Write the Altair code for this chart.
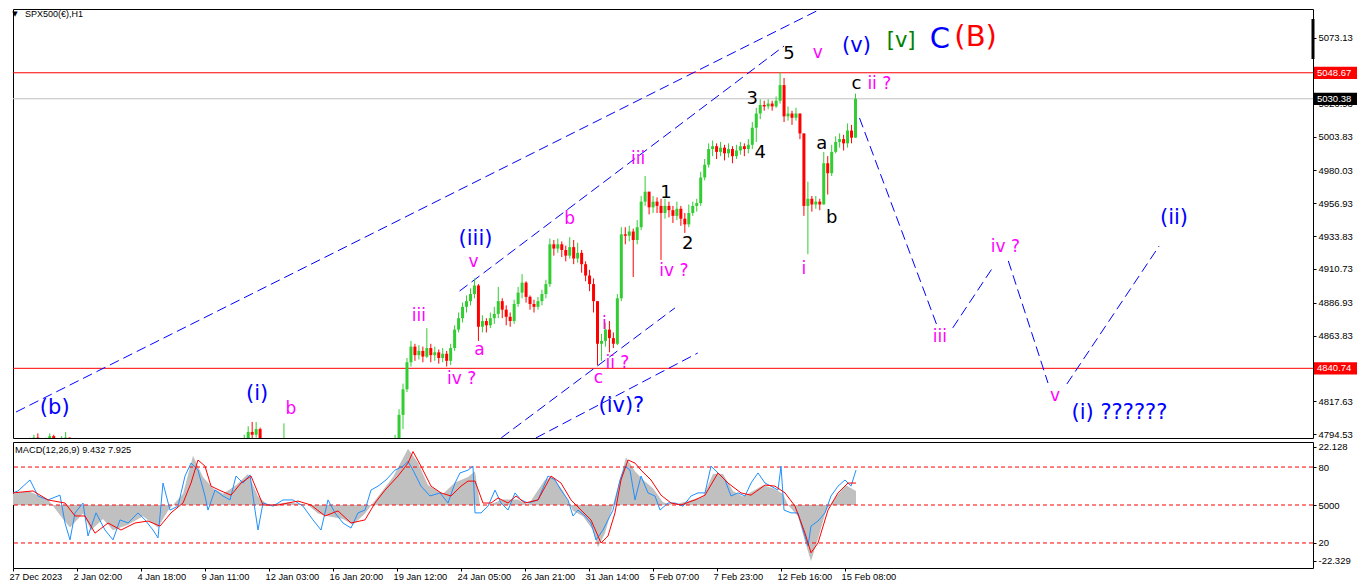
import json
import altair as alt
import pandas as pd

# ---------------- layout ----------------
W = 1300
H_MAIN = 429
H_MACD = 126

# ---------------- axes / tick labels ----------------
X_DOMAIN = [0, 1300]                      # H1 bar index
X_TICK_BARS = [0, 64, 128, 192, 256, 320, 384, 448, 512, 576, 640, 704, 768, 832]
X_TICK_LABELS = ["27 Dec 2023", "2 Jan 02:00", "4 Jan 18:00", "9 Jan 11:00", "12 Jan 03:00",
                 "16 Jan 20:00", "19 Jan 12:00", "24 Jan 05:00", "26 Jan 21:00", "31 Jan 14:00",
                 "5 Feb 07:00", "7 Feb 23:00", "12 Feb 16:00", "15 Feb 08:00"]

PRICE_DOMAIN = [4791.72, 5093.53]
PRICE_TICKS = [5073.13, 5026.93, 5003.83, 4980.03, 4956.93, 4933.83, 4910.73,
               4886.93, 4863.83, 4817.63, 4794.53]

MACD_DOMAIN = [-22.4, 22.4]
MACD_TICK_VALUES = [20.7, 13.5, 0, -13.5, -19.9]
MACD_TICK_TEXT = ["22.128", "80", "5000", "20", "-22.329"]
MACD_LEVELS = [13.5, 0, -13.5]

TITLE = "SPX500(€),H1"
MACD_TITLE = "MACD(12,26,9) 9.432 7.925"

# ---------------- price candles (one drawn candle every 4 H1 bars) ----------------
CANDLE_STEP = 4
CLOSE = [4786, 4788, 4787, 4790, 4792, 4790, 4787, 4789, 4793, 4790,
         4786, 4790, 4792, 4778, 4764, 4772, 4778, 4782, 4770, 4760,
         4768, 4772, 4765, 4758, 4754, 4752, 4760, 4764, 4760, 4758,
         4763, 4767, 4762, 4760, 4755, 4750, 4746, 4762, 4770, 4766,
         4768, 4771, 4777, 4782, 4787, 4785, 4783, 4776, 4772, 4777,
         4775, 4774, 4776, 4778, 4776, 4782, 4786, 4790, 4796, 4794,
         4798, 4784, 4770, 4776, 4779, 4777, 4781, 4786, 4783, 4781,
         4784, 4782, 4779, 4775, 4770, 4766, 4762, 4758, 4766, 4763,
         4760, 4756, 4752, 4749, 4748, 4753, 4757, 4760, 4764, 4769,
         4773, 4776, 4779, 4782, 4785, 4790,
         4808, 4826, 4845, 4856, 4850, 4853, 4849, 4855, 4850, 4852,
         4848, 4851, 4846, 4855, 4868, 4876, 4884, 4888, 4893, 4899,
         4870, 4874, 4871, 4876, 4879, 4888, 4882, 4877, 4874, 4886,
         4894, 4901, 4891, 4886, 4884, 4888, 4893, 4900, 4928, 4925,
         4928, 4924, 4920, 4926, 4918, 4922, 4914, 4906, 4900, 4888,
         4858, 4860, 4868, 4862, 4858, 4890, 4935, 4934, 4937, 4931,
         4940, 4958, 4965, 4954, 4958, 4955, 4950, 4955, 4952, 4948,
         4953, 4946, 4942, 4950, 4955, 4957, 4975, 4984, 4995, 4997,
         4993, 4996, 4992, 4995, 4990, 4994, 4997, 4995, 4998, 5010,
         5020, 5026, 5025, 5027, 5025, 5029, 5040, 5018, 5020, 5017,
         5020, 5006, 4955, 4960, 4956, 4958, 4956, 4985, 4978, 4993,
         5000, 5002, 4999, 5008, 5003, 5030.38]
HIGH = [4789, 4790, 4790, 4792, 4794, 4795, 4791, 4792, 4795, 4794,
        4790, 4793, 4796, 4792, 4780, 4775, 4781, 4785, 4783, 4772,
        4771, 4776, 4774, 4767, 4760, 4757, 4763, 4768, 4766, 4763,
        4766, 4770, 4769, 4765, 4762, 4757, 4752, 4766, 4774, 4772,
        4771, 4774, 4780, 4785, 4790, 4789, 4787, 4784, 4778, 4780,
        4779, 4778, 4779, 4781, 4780, 4785, 4789, 4794, 4800, 4803,
        4803, 4799, 4786, 4779, 4782, 4781, 4784, 4802, 4788, 4785,
        4787, 4786, 4784, 4781, 4777, 4772, 4768, 4764, 4769, 4768,
        4765, 4762, 4758, 4755, 4752, 4756, 4760, 4763, 4767, 4772,
        4776, 4779, 4782, 4785, 4789, 4794,
        4812, 4830, 4848, 4860, 4858, 4857, 4856, 4869, 4858, 4856,
        4854, 4855, 4853, 4858, 4871, 4880, 4887, 4892, 4897, 4904,
        4900, 4878, 4876, 4880, 4884, 4898, 4890, 4885, 4880, 4889,
        4898, 4907, 4902, 4892, 4889, 4891, 4896, 4903, 4932, 4931,
        4932, 4930, 4927, 4933, 4931, 4929, 4924, 4916, 4910, 4904,
        4888, 4865, 4873, 4874, 4866, 4893, 4940, 4940, 4941, 4939,
        4945, 4962, 4976, 4964, 4962, 4961, 4960, 4960, 4958, 4955,
        4958, 4955, 4950, 4956, 4958, 4960, 4979, 4988, 4999, 5001,
        4999, 5000, 4998, 4999, 4997, 4998, 5000, 4999, 5002, 5014,
        5024, 5030, 5029, 5030, 5029, 5032, 5049, 5045, 5025, 5022,
        5024, 5018, 5006, 4972, 4962, 4962, 4960, 4993, 4990, 4998,
        5004, 5006, 5005, 5013, 5012, 5034]
LOW = [4783, 4784, 4785, 4786, 4788, 4788, 4785, 4785, 4788, 4787,
       4783, 4785, 4788, 4774, 4760, 4762, 4770, 4776, 4766, 4756,
       4758, 4765, 4762, 4754, 4750, 4748, 4750, 4758, 4756, 4754,
       4756, 4761, 4759, 4756, 4751, 4746, 4742, 4744, 4760, 4762,
       4763, 4766, 4770, 4776, 4781, 4781, 4779, 4772, 4768, 4770,
       4771, 4770, 4772, 4774, 4773, 4775, 4780, 4784, 4788, 4790,
       4792, 4780, 4766, 4768, 4774, 4773, 4776, 4780, 4779, 4777,
       4779, 4778, 4775, 4771, 4766, 4762, 4758, 4754, 4757, 4759,
       4756, 4752, 4748, 4745, 4744, 4746, 4751, 4755, 4758, 4763,
       4767, 4771, 4774, 4777, 4780, 4784,
       4790, 4798, 4824, 4842, 4846, 4847, 4845, 4848, 4845, 4846,
       4844, 4845, 4842, 4843, 4853, 4866, 4873, 4880, 4885, 4890,
       4860, 4866, 4866, 4869, 4872, 4876, 4876, 4871, 4870, 4872,
       4884, 4890, 4887, 4882, 4880, 4882, 4885, 4890, 4898, 4920,
       4922, 4919, 4916, 4918, 4914, 4915, 4908, 4902, 4895, 4880,
       4843, 4846, 4856, 4852, 4855, 4857, 4888, 4928, 4930, 4905,
       4928, 4938, 4955, 4949, 4950, 4950, 4917, 4946, 4947, 4943,
       4945, 4941, 4936, 4940, 4948, 4951, 4955, 4973, 4982, 4990,
       4988, 4990, 4987, 4989, 4985, 4988, 4991, 4990, 4992, 4995,
       5000, 5016, 5022, 5023, 5022, 5024, 5027, 5014, 5015, 5012,
       5015, 5002, 4948, 4921, 4951, 4953, 4952, 4968, 4963, 4976,
       4992, 4996, 4994, 4996, 4999, 5003]

# ---------------- horizontal levels ----------------
HLINE_PRICE = [5048.67, 4840.74, 5030.38]
HLINE_COLOR = ["#ff0000", "#ff0000", "#c0c0c0"]

# price tags on the right scale
TAG_PRICE = [5048.67, 5030.38, 4840.74]
TAG_TEXT = ["5048.67", "5030.38", "4840.74"]
TAG_FILL = ["#ff0000", "#000000", "#ff0000"]

# ---------------- dashed trend / projection lines ----------------
TREND_SEG = ["a", "a", "b", "b", "c", "c", "d", "d", "p1", "p1", "p2", "p2", "p3", "p3", "p4", "p4"]
TREND_BAR = [-2, 813, 445, 772, 487, 662, 522, 685, 848, 927, 942, 982, 998, 1038, 1057, 1150]
TREND_PRICE = [4810.0, 5095.0, 4895.1, 5067.5, 4791.8, 4883.2, 4791.8, 4851.5,
               5016.9, 4869.2, 4869.2, 4911.3, 4916.3, 4830.4, 4829.7, 4926.8]

# ---------------- wave labels ----------------
BLUE, MAG, BLK, GRN, RED = "#0000ff", "#ff00ff", "#000000", "#008000", "#ff0000"
LABEL_TEXT = ["(b)", "(i)", "b", "iii", "iv ?", "(iii)", "v", "a", "b", "i", "ii ?", "c", "(iv)?",
              "iii", "1", "iv ?", "2", "3", "4", "5", "v", "(v)", "[v]", "C", "(B)",
              "a", "b", "c", "ii ?", "i", "iii", "iv ?", "v", "(i) ??????", "(ii)"]
LABEL_BAR = [37, 241, 275, 404, 447, 461, 459, 465, 556, 591, 604, 585, 608,
             625, 653, 661, 675, 740, 748, 777, 806, 845, 890, 929, 965,
             810, 820, 845, 868, 792, 929, 995, 1045, 1110, 1165]
LABEL_PRICE = [4812.9, 4822.7, 4812.2, 4877.6, 4833.3, 4931.8, 4915.6, 4853.6, 4945.8, 4872.0, 4844.5, 4834.0, 4814.3,
               4988.0, 4964.1, 4909.2, 4928.2, 5030.3, 4992.3, 5061.9, 5062.6, 5067.5, 5071.0, 5072.5, 5073.9,
               4998.6, 4946.5, 5040.8, 5040.8, 4910.6, 4862.8, 4926.1, 4821.3, 4809.3, 4946.5]
LABEL_COLOR = [BLUE, BLUE, MAG, MAG, MAG, BLUE, MAG, MAG, MAG, MAG, MAG, MAG, BLUE,
               MAG, BLK, MAG, BLK, BLK, BLK, BLK, MAG, BLUE, GRN, BLUE, RED,
               BLK, BLK, BLK, MAG, MAG, MAG, MAG, MAG, BLUE, BLUE]
LABEL_SIZE = [21, 21, 17, 17, 17, 21, 17, 17, 17, 17, 17, 17, 21,
              17, 18, 17, 18, 18, 18, 18, 17, 21, 21, 29, 29,
              18, 18, 18, 17, 17, 17, 17, 17, 21, 21]

# ---------------- MACD panel ----------------
MACD_MAIN_BAR = [0, 5, 17, 25, 35, 47, 52, 57, 62, 70, 75, 83, 92, 100, 107, 115, 125, 132, 140, 145,
                 150, 157, 165, 172, 178, 185, 192, 195, 202, 210, 217, 223, 230, 237, 242, 245, 250, 260,
                 270, 280, 290, 300, 308, 315, 322, 330, 338, 345, 352, 358, 365, 373, 382, 390, 395, 400,
                 408, 417, 427, 435, 442, 447, 455, 460, 462, 468, 475, 482, 488, 495, 502, 508, 515, 525,
                 535, 542, 548, 555, 560, 565, 572, 578, 583, 590, 595, 600, 607, 612, 617, 622, 628, 635,
                 642, 647, 655, 662, 670, 678, 685, 692, 698, 705, 712, 718, 725, 732, 738, 745, 752, 758,
                 765, 768, 771, 778, 785, 790, 795, 798, 805, 812, 818, 825, 832, 838, 843]
MACD_MAIN = [4.3, 5, 8.9, 3.2, 1.8, 3.5, -6.4, -12.4, -2.8, 0.7, -11, -2.8, -8.9, -12.4, -5.3, -6.4, -2.8, -5.3, -8.9, -11.7,
             7.8, -1.8, -0.4, 10.3, 14.9, 12.4, 3.2, -1.8, 5.3, 3.2, 1.8, 10.3, 7.8, 10.7, -1.8, -8.9, 0.7, -0.4,
             1.8, 1.8, -0.4, -5.3, -8.9, 1.8, -2.8, -6.4, -8.2, -2.8, -1.8, 5.3, 6.7, 8.9, 12.4, 13.8, 15.5, 12.4,
             6.7, 3.2, 4.3, 0.7, 7.8, 11.4, 12.4, 13.8, -2.8, -2.8, -0.4, 5.3, 0.7, -1.8, 4.3, 1.8, 0.7, 1.8,
             10.3, 8.9, 5.3, 1.8, -3.9, -1.8, -3.9, -6.4, -12.4, -8.9, -5.3, -1.8, 8.9, 13.8, 12.4, 1.8, 10.3, 4.3,
             3.2, -1.8, 0.7, 0.7, -0.4, 3.2, 4.3, 4.3, 13.8, 11.4, 8.9, 3.2, 4.3, 3.2, 7.8, 11.4, 7.8, 6.7,
             5.3, 13.8, -1.8, -2.8, -2.8, -8.9, -14.6, -7.5, -5.7, -2.8, 3.2, 6.7, 8.9, 6.7, 12.4]
SIGNAL_BAR = [0, 20, 35, 52, 62, 72, 82, 95, 108, 122, 135, 147, 158, 170, 178, 185, 192, 198, 208, 218,
              228, 238, 245, 250, 265, 285, 298, 312, 325, 338, 352, 362, 372, 385, 395, 400, 408, 418, 428,
              438, 448, 455, 462, 470, 478, 485, 495, 503, 512, 525, 538, 548, 558, 568, 578, 588, 595, 602,
              608, 615, 622, 628, 638, 648, 658, 668, 682, 692, 705, 715, 728, 738, 752, 762, 772, 782, 792,
              798, 805, 815, 825, 835, 843]
SIGNAL = [4.3, 5, 1.8, 0.7, -3.9, -3.9, -10, -6.4, -8.9, -6.4, -5.7, -7.5, -2.8, 0.7, 7.8, 16, 13.8, 6.7, 5, 3.5,
          7.8, 10.3, 4.3, 0, 0, 1.4, 0, -3.9, -2.1, -6.4, -5.3, 0.7, 5.3, 10.3, 14.9, 19, 13.8, 6.7, 4.3,
          3.2, 6.7, 8.5, 8.5, 0.7, 0.7, 2.5, 0.7, 3.2, 0.7, 1.8, 10.3, 7.8, 1.8, -1.8, -5.3, -13.5, -11, -2.8,
          8.9, 16, 14.9, 12.4, 8.9, 3.5, 0.7, 0, 1.8, 3.5, 11.4, 7.8, 4.3, 3.5, 7.1, 6.7, 4.3, -0.4, -10,
          -17, -13.5, -1.8, 4.3, 7.8, 7.8]
HIST_BAR = [0, 15, 35, 50, 57, 70, 78, 90, 100, 115, 130, 145, 155, 170, 180, 190, 200, 210, 223, 235,
            245, 255, 275, 295, 305, 315, 330, 340, 352, 365, 380, 395, 405, 415, 430, 442, 455, 462, 467,
            475, 490, 505, 515, 532, 540, 550, 560, 570, 580, 585, 592, 600, 610, 613, 622, 630, 640, 650,
            660, 680, 690, 700, 710, 720, 730, 740, 750, 760, 770, 775, 785, 792, 798, 805, 813, 823, 833, 843]
HIST = [4, 5, 2, -5, -8, -3, -9, -5, -9, -7, -4, -8, -2, 4, 17.5, 10, 6, 4, 7, 11,
        3, 0, 1, 0, -3, -4, -5, -7, -3, 3, 10, 20, 15, 7, 4, 8, 10, 12, 0,
        0, 2, 2, 0, 9, 10, 5, -2, -4, -9, -15, -10, 0, 13, 17, 12, 9, 6, 1,
        0, 2, 3, 11, 11, 5, 3, 5, 7, 6, 4, 0, -4, -13, -20, -12, -2, 3, 7, 5]

# ---------------- data frames ----------------
opens = [CLOSE[0]] + CLOSE[:-1]
candles = pd.DataFrame({
    "bar": [i * CANDLE_STEP for i in range(len(CLOSE))],
    "open": opens,
    "close": CLOSE,
    "high": [max(h, o, c) for h, o, c in zip(HIGH, opens, CLOSE)],
    "low": [min(l, o, c) for l, o, c in zip(LOW, opens, CLOSE)],
})
candles["col"] = ["#32cd32" if c >= o else "#ff0000" for o, c in zip(candles["open"], candles["close"])]

hl_df = pd.DataFrame({"price": HLINE_PRICE, "color": HLINE_COLOR})
tag_df = pd.DataFrame({"price": TAG_PRICE, "text": TAG_TEXT, "fill": TAG_FILL})
tag_df["top"] = tag_df["price"] + 4.3
tag_df["bottom"] = tag_df["price"] - 4.3
trend_df = pd.DataFrame({"seg": TREND_SEG, "bar": TREND_BAR, "price": TREND_PRICE})
lab_df = pd.DataFrame({"text": LABEL_TEXT, "bar": LABEL_BAR, "price": LABEL_PRICE,
                       "color": LABEL_COLOR, "size": LABEL_SIZE})

main_df = pd.DataFrame({"bar": MACD_MAIN_BAR, "val": MACD_MAIN})
sig_df = pd.DataFrame({"bar": SIGNAL_BAR, "val": SIGNAL})
hist_df = pd.DataFrame({"bar": HIST_BAR, "val": HIST})
hist_df["zero"] = 0.0
lvl_df = pd.DataFrame({"val": MACD_LEVELS})

# ---------------- scales / axes ----------------
X_SCALE = alt.Scale(domain=X_DOMAIN, nice=False, zero=False)
P_SCALE = alt.Scale(domain=PRICE_DOMAIN, nice=False, zero=False)
M_SCALE = alt.Scale(domain=MACD_DOMAIN, nice=False, zero=False)

AX_FONT = dict(labelFont="Liberation Sans", labelColor="black",
               tickColor="black", domain=False, grid=False, title=None,
               labelOverlap=False, labelFlush=False)
P_AXIS = alt.Axis(orient="right", values=PRICE_TICKS, format=".2f", tickSize=3, labelPadding=2,
                  labelFontSize=9.5, **AX_FONT)
M_AXIS = alt.Axis(orient="right", values=MACD_TICK_VALUES, tickSize=3, labelPadding=2, labelFontSize=9.5,
                  labelExpr=f"{json.dumps(MACD_TICK_TEXT)}[indexof({json.dumps(MACD_TICK_VALUES)}, datum.value)]",
                  **AX_FONT)
X_AXIS = alt.Axis(orient="bottom", values=X_TICK_BARS, tickSize=3, labelPadding=1, labelFontSize=9.3,
                  labelAlign="left", labelBaseline="top", labelBound=False, labelOffset=-4,
                  labelExpr=f"{json.dumps(X_TICK_LABELS)}[round(datum.value / 64)]", **AX_FONT)


def px(field="bar"):
    return alt.X(f"{field}:Q", scale=X_SCALE, axis=None, title=None)


def py(field):
    return alt.Y(f"{field}:Q", scale=P_SCALE, axis=P_AXIS, title=None)


def mx(field="bar"):
    return alt.X(f"{field}:Q", scale=X_SCALE, axis=X_AXIS, title=None)


def my(field):
    return alt.Y(f"{field}:Q", scale=M_SCALE, axis=M_AXIS, title=None)


# ---------------- main price panel ----------------
hlines = alt.Chart(hl_df).mark_rule(strokeWidth=1).encode(
    y=py("price"), color=alt.Color("color:N", scale=None))

trend = alt.Chart(trend_df).mark_line(color="#0000ff", strokeWidth=1, strokeDash=[10, 5], clip=True).encode(
    x=px(), y=py("price"), detail="seg:N")

wicks = alt.Chart(candles).mark_rule(strokeWidth=1, clip=True).encode(
    x=px(), y=py("low"), y2="high:Q", color=alt.Color("col:N", scale=None))

bodies = alt.Chart(candles).mark_bar(size=3, clip=True, orient="vertical").encode(
    x=px(), y=py("open"), y2="close:Q", color=alt.Color("col:N", scale=None))

labels = alt.Chart(lab_df).mark_text(font="DejaVu Sans", align="center", baseline="middle").encode(
    x=px(), y=py("price"), text="text:N",
    color=alt.Color("color:N", scale=None), size=alt.Size("size:Q", scale=None))

tag_rect = alt.Chart(tag_df).mark_rect().encode(
    x=alt.value(W + 1), x2=alt.value(W + 44), y=py("top"), y2="bottom:Q",
    color=alt.Color("fill:N", scale=None))
tag_text = alt.Chart(tag_df).mark_text(font="Liberation Sans", fontSize=9.5, color="white",
                                       align="left", baseline="middle").encode(
    x=alt.value(W + 4), y=py("price"), text="text:N")

marker = alt.Chart(pd.DataFrame({"k": [0]})).mark_rule(color="black", strokeWidth=3).encode(
    x=alt.value(W), y=alt.value(10), y2=alt.value(50))

title_txt = alt.Chart(pd.DataFrame({"t": [TITLE]})).mark_text(
    font="Liberation Sans", fontSize=9, color="black", align="left", baseline="middle").encode(
    x=alt.value(12), y=alt.value(5), text="t:N")
tri_txt = alt.Chart(pd.DataFrame({"t": ["▼"]})).mark_text(
    font="DejaVu Sans", fontSize=7, color="black", align="center", baseline="middle").encode(
    x=alt.value(2), y=alt.value(5), text="t:N")

main = alt.layer(hlines, trend, wicks, bodies, labels, tag_rect, tag_text, marker, title_txt, tri_txt).properties(
    width=W, height=H_MAIN)

# ---------------- MACD panel ----------------
hist = alt.Chart(hist_df).mark_area(color="#c0c0c0").encode(x=mx(), y=my("val"), y2="zero:Q")
levels = alt.Chart(lvl_df).mark_rule(color="#ff0000", strokeWidth=1, strokeDash=[4, 3]).encode(y=my("val"))
mline = alt.Chart(main_df).mark_line(color="#1e90ff", strokeWidth=1).encode(x=mx(), y=my("val"))
sline = alt.Chart(sig_df).mark_line(color="#ff0000", strokeWidth=1).encode(x=mx(), y=my("val"))
macd_txt = alt.Chart(pd.DataFrame({"t": [MACD_TITLE]})).mark_text(
    font="Liberation Sans", fontSize=9.3, color="black", align="left", baseline="middle").encode(
    x=alt.value(2), y=alt.value(8), text="t:N")

macd = alt.layer(hist, levels, mline, sline, macd_txt).properties(width=W, height=H_MACD)

chart = alt.vconcat(main, macd, spacing=1).resolve_scale(
    x="independent", y="independent").properties(
    padding={"left": 0, "top": 0, "right": 0, "bottom": 0}, background="white").configure_view(
    stroke="black", strokeWidth=1)

chart.save("out.html", embed_options={"renderer": "svg", "actions": False})
